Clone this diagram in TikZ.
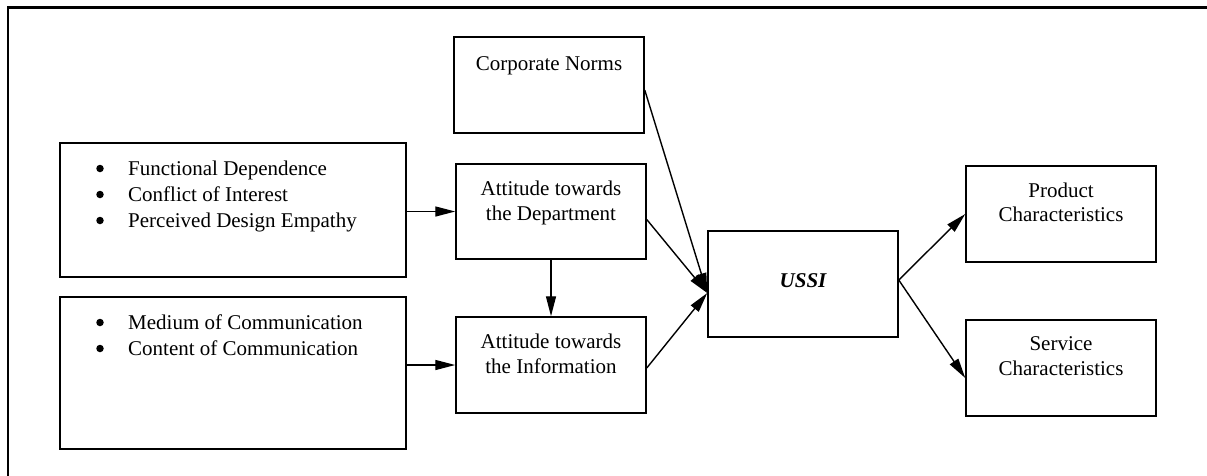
\documentclass[tikz,border=0pt]{standalone}
\usepackage{fontspec}
\setmainfont{Liberation Serif}
\usetikzlibrary{arrows.meta,calc}
\begin{document}
\begin{tikzpicture}[x=1pt,y=-1pt,
  box/.style={draw,line width=1.5pt,rectangle,inner sep=0pt},
  txt/.style={anchor=base,inner sep=0pt,font=\fontsize{21}{25}\selectfont},
  ltxt/.style={txt,anchor=base west},
  dot/.style={circle,fill,inner sep=0pt,minimum size=7.5pt},
  conn/.style={line width=1.4pt,-{Triangle[length=20pt,width=10pt]}},
  frameline/.style={line width=2.6pt}]
\useasboundingbox (0,0) rectangle (1207,475);

% open frame: top and left edges
\coordinate (fc) at (8,7.5);
\coordinate (fr) at (1209,7.5);
\coordinate (fb) at (8,477);
\draw[frameline] (fb) -- (fc) -- (fr);

% boxes
\node[box,minimum width=346pt,minimum height=134pt] (f1) at (233,210) {};
\node[box,minimum width=346pt,minimum height=152pt] (f2) at (233,373) {};
\node[box,minimum width=190pt,minimum height=96pt] (corp) at (549,85) {};
\node[box,minimum width=190pt,minimum height=95pt] (dept) at (551,211.5) {};
\node[box,minimum width=190pt,minimum height=96pt] (info) at (551,365) {};
\node[box,minimum width=190pt,minimum height=106pt] (ussi) at (803,284) {};
\node[box,minimum width=190pt,minimum height=96pt] (prod) at (1061,214) {};
\node[box,minimum width=190pt,minimum height=96pt] (serv) at (1061,368) {};

% bullet lists
\node[dot] (b11) at (100,168.5) {};
\node[ltxt] (t11) at (128,175) {Functional Dependence};
\node[dot] (b12) at (100,194.5) {};
\node[ltxt] (t12) at (128,201) {Conflict of Interest};
\node[dot] (b13) at (100,220.5) {};
\node[ltxt] (t13) at (128,227) {Perceived Design Empathy};
\node[dot] (b21) at (100,322.5) {};
\node[ltxt] (t21) at (128,329) {Medium of Communication};
\node[dot] (b22) at (100,348.5) {};
\node[ltxt] (t22) at (128,355) {Content of Communication};

% box captions
\node[txt] (tcorp) at (549,70) {Corporate Norms};
\node[txt] (tdept1) at (551,195) {Attitude towards};
\node[txt] (tdept2) at (551,220) {the Department};
\node[txt] (tinfo1) at (551,348) {Attitude towards};
\node[txt] (tinfo2) at (551,373) {the Information};
\node[txt] (tussi) at (803,287) {\bfseries\itshape USSI};
\node[txt] (tprod1) at (1061,197) {Product};
\node[txt] (tprod2) at (1061,221) {Characteristics};
\node[txt] (tserv1) at (1061,350) {Service};
\node[txt] (tserv2) at (1061,375) {Characteristics};

% connectors
\coordinate (uin) at ($(ussi.west)+(0,9)$);
\coordinate (uout) at ($(ussi.east)+(0,-4)$);
\draw[conn] (f1.east |- dept.west) -- (dept.west);
\draw[conn] (f2.east |- info.west) -- (info.west);
\draw[conn] (dept.south) -- (info.north);
\draw[conn] ($(corp.east)+(0,5)$) -- (uin);
\draw[conn] ($(dept.east)+(0,8)$) -- (uin);
\draw[conn] ($(info.east)+(0,3)$) -- (uin);
\draw[conn] (uout) -- (prod.west);
\draw[conn] (uout) -- ($(serv.west)+(0,10)$);
\end{tikzpicture}
\end{document}
